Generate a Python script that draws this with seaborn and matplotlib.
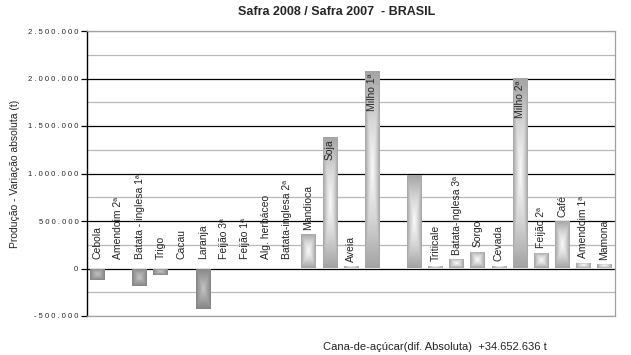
import matplotlib
matplotlib.use("Agg")
import matplotlib.pyplot as plt
import numpy as np
import pandas as pd
import seaborn as sns
from matplotlib.colors import LinearSegmentedColormap
from matplotlib.ticker import FuncFormatter, MultipleLocator

# culturas na ordem do grafico (duas posicoes sem rotulo no original)
categories = ["Cebola", "Amendoim 2ª", "Batata - inglesa 1ª", "Trigo", "Cacau", "Laranja",
              "Feijão 3ª", "Feijão 1ª", "Alg. herbáceo", "Batata-inglesa 2ª", "Mandioca",
              "Soja", "Aveia", "Milho 1ª", "", " ", "Triticale", "Batata-inglesa 3ª",
              "Sorgo", "Cevada", "Milho 2ª", "Feijão 2ª", "Café", "Amendoim 1ª", "Mamona"]
values = [-120000, 0, -185000, -70000, 0, -425000,
          0, 0, 0, 0, 365000,
          1385000, 25000, 2080000, 0, 985000, 30000, 95000,
          178000, 30000, 2010000, 168000, 500000, 63000, 45000]

yticks = [-500000, 0, 500000, 1000000, 1500000, 2000000, 2500000]
title = "Safra 2008 / Safra 2007  - BRASIL"
ylabel = "Produção - Variação absoluta (t)"
footer = "Cana-de-açúcar(dif. Absoluta)  +34.652.636 t"

sns.set_style("white")
plt.rcParams["font.family"] = ["Liberation Sans", "DejaVu Sans"]

df = pd.DataFrame({"cultura": categories, "variacao": values})

fig = plt.figure(figsize=(6.31, 3.55), dpi=100)
ax = fig.add_axes([86.7 / 631, 1 - 316 / 355, (615 - 86.7) / 631, (316 - 31) / 355])

sns.barplot(data=df, x="cultura", y="variacao", order=categories, color="#a6a6a6",
            width=0.68, ax=ax, zorder=3)

# gradiente "do centro" em cada barra
pos_cmap = LinearSegmentedColormap.from_list("pos", ["#fbfbfb", "#d6d6d6", "#a4a4a4"])
neg_cmap = LinearSegmentedColormap.from_list("neg", ["#c4c4c4", "#a4a4a4", "#858585"])
u = np.linspace(-1, 1, 80)
d = np.maximum(np.abs(u)[None, :], np.abs(u)[:, None])
for p in ax.patches:
    x0, y0 = p.get_xy()
    w, h = p.get_width(), p.get_height()
    p.set_facecolor("none")
    p.set_edgecolor("none")
    if h == 0:
        continue
    cmap = pos_cmap if h > 0 else neg_cmap
    ylo, yhi = min(y0, y0 + h), max(y0, y0 + h)
    im = ax.imshow(cmap(d), extent=[x0, x0 + w, ylo, yhi], aspect="auto",
                   interpolation="bilinear", zorder=3)
    im.set_clip_path(p)

ax.set_ylim(yticks[0], yticks[-1])
ax.set_xlim(-0.5, len(categories) - 0.5)

# rotulos verticais das culturas
for i, (name, v) in enumerate(zip(categories, values)):
    if not name.strip():
        continue
    if v > 1000000:
        ax.annotate(name, xy=(i, v), xytext=(0, -2), textcoords="offset points",
                    rotation=90, ha="center", va="top", fontsize=7.5, zorder=5)
    elif v > 0:
        ax.annotate(name, xy=(i, v), xytext=(0, 3), textcoords="offset points",
                    rotation=90, ha="center", va="bottom", fontsize=7.5, zorder=5)
    else:
        ax.annotate(name, xy=(i, 0), xytext=(0, 7), textcoords="offset points",
                    rotation=90, ha="center", va="bottom", fontsize=7.5, zorder=5)


def fmt_tick(y, _):
    s = "{:,.0f}".format(y).replace(",", ".")
    return " ".join(s)


ax.set_yticks(yticks)
ax.yaxis.set_minor_locator(MultipleLocator(250000))
ax.yaxis.set_major_formatter(FuncFormatter(fmt_tick))
ax.grid(which="major", axis="y", color="black", linewidth=0.9, zorder=1)
ax.grid(which="minor", axis="y", color="#b8b8b8", linewidth=0.9, zorder=1)
ax.set_axisbelow(True)
gl = ax.get_ygridlines()
gl[0].set_color("#a0a0a0")
gl[-1].set_color("#a0a0a0")

ax.tick_params(axis="y", which="major", length=4, width=0.9, color="black", labelsize=5.5, pad=2, left=True)
ax.tick_params(axis="y", which="minor", length=0)
ax.tick_params(axis="x", length=0, labelbottom=False)
ax.set_xlabel("")
ax.set_ylabel(ylabel, fontsize=7.5)
ax.yaxis.set_label_coords(-0.126, 0.5)

for side in ["top", "right", "bottom"]:
    ax.spines[side].set_visible(True)
    ax.spines[side].set_color("#a0a0a0")
    ax.spines[side].set_linewidth(0.9)
ax.spines["left"].set_color("black")
ax.spines["left"].set_linewidth(1.0)

fig.text(0.533, 1 - 12 / 355, title, ha="center", va="center", fontsize=9, fontweight="bold")
fig.text(323 / 631, 1 - 347 / 355, footer, ha="left", va="center", fontsize=8)

fig.savefig("out.png", dpi=100)
